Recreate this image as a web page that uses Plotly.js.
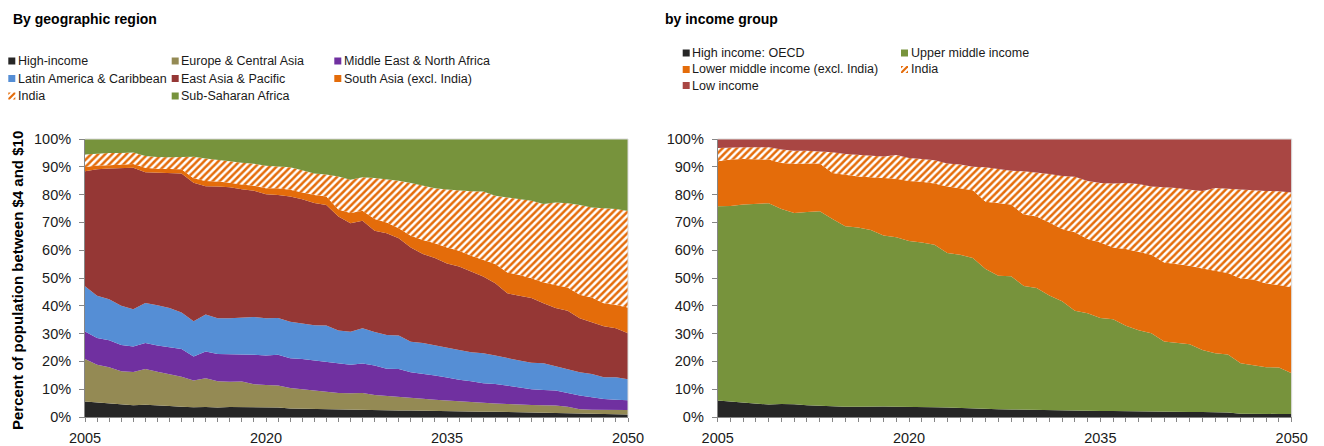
<!DOCTYPE html>
<html>
<head>
<meta charset="utf-8">
<script src="https://cdn.plot.ly/plotly-3.0.1.min.js"></script>
<style>
  html, body { margin: 0; padding: 0; background: #ffffff; }
  #chart { width: 1324px; height: 446px; }
</style>
</head>
<body>
<div id="chart"></div>
<script>
// Share of population living on $4-$10 a day, 2005-2050 (stacked, percent)
const years = [2005,2006,2007,2008,2009,2010,2011,2012,2013,2014,
               2015,2016,2017,2018,2019,2020,2021,2022,2023,2024,
               2025,2026,2027,2028,2029,2030,2031,2032,2033,2034,
               2035,2036,2037,2038,2039,2040,2041,2042,2043,2044,
               2045,2046,2047,2048,2049,2050];

// --- By geographic region ---
const highIncome = [5.6,5.2,4.8,4.6,4.2,4.4,4.3,4.0,3.7,3.5,
                    3.6,3.4,3.6,3.6,3.4,3.4,3.4,3.1,3.0,2.9,
                    2.8,2.6,2.6,2.5,2.4,2.4,2.3,2.3,2.2,2.2,
                    2.1,2.0,2.0,1.9,1.9,1.8,1.8,1.7,1.7,1.6,
                    1.3,1.2,1.1,1.0,1.0,0.9];
const europeCentralAsia = [15.3,13.6,13.1,11.9,12.0,12.9,12.0,11.3,10.8,9.6,
                           10.3,9.5,9.1,9.2,8.4,8.1,7.9,7.3,7.0,6.7,
                           6.4,6.0,5.9,6.1,5.5,5.2,4.9,4.8,4.4,4.0,
                           3.8,3.6,3.4,3.3,3.0,2.9,2.6,2.6,2.5,2.5,
                           2.4,1.6,1.5,1.6,1.5,1.6];
const middleEastNorthAfrica = [9.9,9.6,9.7,9.4,9.2,9.3,9.4,9.8,10.0,8.7,
                               9.7,9.8,9.8,9.7,10.6,10.6,11.1,10.7,10.9,10.8,
                               10.7,10.7,10.3,10.6,10.6,9.8,10.1,9.0,9.0,8.7,
                               8.3,7.8,7.5,6.9,7.0,6.5,6.3,5.7,5.5,5.4,
                               4.9,4.9,4.5,3.9,3.7,3.5];
const latinAmericaCaribbean = [16.2,15.2,14.8,14.1,13.4,14.4,14.5,14.1,13.1,12.6,
                               13.3,12.8,13.0,13.2,13.6,13.4,13.2,13.2,12.7,12.6,
                               13.0,11.8,11.9,12.7,12.1,12.1,12.0,11.0,11.0,10.8,
                               10.7,10.7,10.4,10.8,10.2,9.9,9.6,9.5,9.6,8.8,
                               8.7,8.4,8.4,7.8,8.1,7.6];
const eastAsiaPacific = [41.4,45.5,47.0,49.6,50.9,47.0,47.7,48.6,50.0,49.9,
                         46.1,47.4,47.1,46.2,45.4,44.6,44.3,45.0,44.7,44.0,
                         43.4,41.0,39.0,38.7,36.4,36.6,35.0,33.9,32.0,31.5,
                         30.3,30.0,29.1,27.6,26.0,23.4,23.3,23.3,21.6,20.9,
                         20.9,19.4,18.6,18.3,17.6,16.5];
const southAsiaExIndia = [1.5,1.4,1.2,1.2,1.3,1.7,1.4,1.4,1.5,1.6,
                          1.9,1.8,1.7,1.7,1.8,2.2,2.4,2.4,2.5,2.9,
                          3.0,2.5,3.7,3.6,4.2,3.9,3.6,4.2,5.1,5.3,
                          5.8,5.7,5.6,6.1,6.9,7.5,7.5,7.1,7.5,8.3,
                          8.4,8.5,8.9,8.3,8.4,9.3];
const indiaRegion = [4.5,4.3,4.4,4.2,4.1,4.2,4.2,4.2,4.3,7.7,
                     8.1,7.9,7.7,7.9,7.9,8.1,7.9,8.1,8.0,7.7,
                     7.9,11.9,11.9,12.0,14.8,15.6,17.1,19.0,19.5,19.8,
                     20.8,21.6,23.2,24.5,24.6,27.0,27.3,27.9,28.2,29.7,
                     30.3,32.3,32.4,34.2,34.5,34.7];
const subSaharanAfrica = [5.6,5.2,5.0,5.0,4.9,6.1,6.5,6.6,6.6,6.4,
                          7.0,7.4,8.0,8.5,8.9,9.6,9.8,10.2,11.2,12.4,
                          12.8,13.5,14.7,13.8,14.0,14.4,15.0,15.8,16.8,17.7,
                          18.2,18.6,18.8,18.9,20.4,21.0,21.6,22.2,23.4,22.8,
                          23.1,23.7,24.6,24.9,25.2,25.9];

// --- By income group ---
const highIncomeOECD = [5.9,5.5,5.2,4.9,4.5,4.7,4.6,4.2,4.0,3.7,
                        3.7,3.7,3.8,3.8,3.7,3.7,3.6,3.5,3.4,3.2,
                        3.1,2.9,2.8,2.7,2.6,2.6,2.5,2.4,2.4,2.3,
                        2.2,2.2,2.1,2.1,2.0,1.9,1.9,1.8,1.8,1.7,
                        1.6,1.2,1.1,1.1,1.1,1.1];
const upperMiddle = [69.9,70.4,71.2,71.7,72.4,70.1,68.8,69.5,70.0,67.5,
                     64.9,64.5,63.5,61.5,61.0,59.6,59.2,58.5,55.6,55.2,
                     54.1,50.3,48.0,47.9,44.5,43.8,41.2,39.2,35.8,35.0,
                     33.4,33.0,30.7,29.1,28.1,25.3,24.9,24.4,22.3,21.2,
                     20.9,18.1,17.5,16.8,16.7,14.6];
const lowerMiddleExIndia = [16.2,16.7,16.4,16.1,15.7,16.6,17.7,17.5,17.2,16.6,
                            18.5,18.3,18.9,20.6,21.0,21.6,21.8,22.0,23.9,23.9,
                            24.4,24.2,26.0,25.8,25.7,25.7,26.3,26.0,28.3,26.7,
                            27.2,25.8,27.6,28.1,28.3,28.4,28.2,28.2,29.3,29.8,
                            29.3,30.5,30.9,30.1,29.7,31.0];
const indiaIncome = [4.8,4.4,4.2,4.3,4.4,4.8,4.7,4.6,4.4,7.4,
                     7.5,7.8,7.7,7.8,8.5,8.3,8.2,8.4,8.3,8.5,
                     8.4,12.4,12.4,12.2,15.6,15.9,17.4,19.1,19.9,20.9,
                     21.4,23.0,23.8,24.5,24.5,27.0,27.4,27.3,27.9,29.7,
                     30.3,32.0,32.0,33.3,33.7,34.1];
const lowIncome = [3.2,3.0,3.0,3.0,3.0,3.8,4.2,4.2,4.4,4.8,
                   5.4,5.7,6.1,6.3,5.8,6.8,7.2,7.6,8.8,9.2,
                   10.0,10.2,10.8,11.4,11.6,12.0,12.6,13.3,13.6,15.1,
                   15.8,16.0,15.8,16.2,17.1,17.4,17.6,18.3,18.7,17.6,
                   17.9,18.2,18.5,18.7,18.8,19.2];

const regionNames = ['High-income','Europe & Central Asia','Middle East & North Africa',
                     'Latin America & Caribbean','East Asia & Pacific','South Asia (excl. India)',
                     'India','Sub-Saharan Africa'];
const incomeNames = ['High income: OECD','Upper middle income',
                     'Lower middle income (excl. India)','India','Low income'];

// ---------------------------------------------------------------
const W = 1324, H = 446;
const px = x => x / W;          // pixel -> paper (x)
const py = y => 1 - y / H;      // pixel (from top) -> paper (y)

const COL = {
  black: '#262626', olive: '#948a54', purple: '#7030a0', blue: '#558ed5',
  darkred: '#953735', orange: '#e46c0a', green: '#77933c', lowred: '#a94643'
};
const HATCH = { shape: '/', fgcolor: COL.orange, bgcolor: '#ffffff', size: 5, solidity: 0.5 };
const FONT = '"Liberation Sans", Arial, Helvetica, sans-serif';

function area(x, y, name, color, group, xa, ya, hatched) {
  const t = {
    type: 'scatter', mode: 'lines', x: x, y: y, name: name,
    stackgroup: group, xaxis: xa, yaxis: ya,
    line: { width: 0, color: color }, fillcolor: hatched ? '#ffffff' : color,
    showlegend: false, hoverinfo: 'x+y+name'
  };
  if (hatched) t.fillpattern = HATCH;
  return t;
}

const regionSeries = [highIncome, europeCentralAsia, middleEastNorthAfrica, latinAmericaCaribbean,
                      eastAsiaPacific, southAsiaExIndia, indiaRegion, subSaharanAfrica];
const regionColors = [COL.black, COL.olive, COL.purple, COL.blue, COL.darkred, COL.orange, COL.orange, COL.green];
const incomeSeries = [highIncomeOECD, upperMiddle, lowerMiddleExIndia, indiaIncome, lowIncome];
const incomeColors = [COL.black, COL.green, COL.orange, COL.orange, COL.lowred];

const traces = [];
regionSeries.forEach((s, i) =>
  traces.push(area(years, s, regionNames[i], regionColors[i], 'region', 'x', 'y', regionNames[i] === 'India')));
incomeSeries.forEach((s, i) =>
  traces.push(area(years, s, incomeNames[i], incomeColors[i], 'income', 'x2', 'y2', incomeNames[i] === 'India')));

// plot areas (pixels)
const plotTop = 139, plotBottom = 417;
const leftL = 85, leftR = 628, rightL = 717.7, rightR = 1291.7;

function xAxis(l, r, yname) {
  return {
    domain: [px(l), px(r)], anchor: yname, range: [2005, 2050],
    tick0: 2005, dtick: 15, ticks: 'outside', ticklen: 4, tickwidth: 1, tickcolor: '#868686',
    minor: { tick0: 2005, dtick: 1, ticks: 'outside', ticklen: 4, tickwidth: 1, tickcolor: '#868686', showgrid: false },
    showline: true, linecolor: '#868686', linewidth: 1, showgrid: false, zeroline: false,
    tickfont: { family: FONT, size: 14.5, color: '#1a1a1a' }, ticklabelstandoff: 4, fixedrange: true
  };
}
function yAxis(xname) {
  return {
    domain: [py(plotBottom), py(plotTop)], anchor: xname, range: [0, 100],
    tick0: 0, dtick: 10, ticksuffix: '%', ticks: 'outside', ticklen: 5, tickwidth: 1, tickcolor: '#868686',
    showline: true, linecolor: '#868686', linewidth: 1, showgrid: false, zeroline: false,
    tickfont: { family: FONT, size: 14.5, color: '#1a1a1a' }, ticklabelstandoff: 5, fixedrange: true
  };
}

const shapes = [];
const annotations = [];

// light frame on top and right edges of each plot
[[leftL, leftR], [rightL, rightR]].forEach(([l, r]) => {
  shapes.push({ type: 'line', xref: 'paper', yref: 'paper', x0: px(l), x1: px(r), y0: py(plotTop), y1: py(plotTop),
                line: { color: '#d9d9d9', width: 1 }, layer: 'above' });
  shapes.push({ type: 'line', xref: 'paper', yref: 'paper', x0: px(r), x1: px(r), y0: py(plotTop), y1: py(plotBottom),
                line: { color: '#d9d9d9', width: 1 }, layer: 'above' });
});

// legend swatch: small square, optionally with diagonal stripes
const SW = 7;
function poly(pts, color) {
  const d = pts.map((p, i) => (i ? 'L' : 'M') + px(p[0]).toFixed(6) + ',' + py(p[1]).toFixed(6)).join(' ') + ' Z';
  shapes.push({ type: 'path', xref: 'paper', yref: 'paper', path: d, fillcolor: color, line: { width: 0 }, layer: 'above' });
}
function swatch(x, yc, color, hatched) {
  const t = yc - SW / 2, b = yc + SW / 2, r = x + SW;
  if (!hatched) { poly([[x, t], [r, t], [r, b], [x, b]], color); return; }
  poly([[x, t], [r, t], [r, b], [x, b]], '#ffffff');
  // stripes running bottom-left to top-right
  poly([[x, t], [x + 2.5, t], [x, t + 2.5]], color);
  poly([[x, b], [x + 1.5, b], [r, t + 1.5], [r, t], [r - 1.5, t], [x, b - 1.5]], color);
  poly([[x + 4.5, b], [r, b], [r, b - 2.5]], color);
}
function legendItem(x, yc, name, color, hatched) {
  swatch(x, yc, color, hatched);
  annotations.push({ xref: 'paper', yref: 'paper', x: px(x + SW + 1.5), y: py(yc), xanchor: 'left', yanchor: 'middle',
                     text: name, showarrow: false, borderpad: 0,
                     font: { family: FONT, size: 12.5, color: '#1a1a1a' } });
}

// region legend: 3 columns
const regCols = [8.3, 171.7, 334.3], regRows = [61, 78.5, 96];
regionNames.forEach((n, i) =>
  legendItem(regCols[i % 3], regRows[Math.floor(i / 3)], n, regionColors[i], n === 'India'));
// income legend: 2 columns
const incCols = [682.7, 901], incRows = [53, 69.5, 85.5];
incomeNames.forEach((n, i) =>
  legendItem(incCols[i % 2], incRows[Math.floor(i / 2)], n, incomeColors[i], n === 'India'));

// panel titles
annotations.push({ xref: 'paper', yref: 'paper', x: px(12), y: py(19.5), xanchor: 'left', yanchor: 'middle',
  text: '<b>By geographic region</b>', showarrow: false, borderpad: 0,
  font: { family: FONT, size: 14, color: '#000000' } });
annotations.push({ xref: 'paper', yref: 'paper', x: px(664), y: py(19.5), xanchor: 'left', yanchor: 'middle',
  text: '<b>by income group</b>', showarrow: false, borderpad: 0,
  font: { family: FONT, size: 14, color: '#000000' } });
// y-axis title
annotations.push({ xref: 'paper', yref: 'paper', x: px(17), y: py(281), xanchor: 'center', yanchor: 'middle',
  text: '<b>Percent of population between $4 and $10</b>', textangle: -90, showarrow: false, borderpad: 0,
  font: { family: FONT, size: 15, color: '#000000' } });

const layout = {
  width: W, height: H, margin: { l: 0, r: 0, t: 0, b: 0 },
  paper_bgcolor: '#ffffff', plot_bgcolor: '#ffffff',
  showlegend: false, hovermode: 'closest',
  xaxis: xAxis(leftL, leftR, 'y'), yaxis: yAxis('x'),
  xaxis2: xAxis(rightL, rightR, 'y2'), yaxis2: yAxis('x2'),
  shapes: shapes, annotations: annotations
};

Plotly.newPlot('chart', traces, layout, { displayModeBar: false, staticPlot: false, responsive: false });
</script>
</body>
</html>
